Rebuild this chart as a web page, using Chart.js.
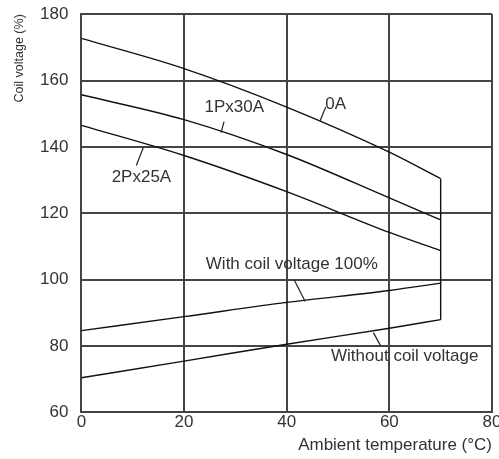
<!DOCTYPE html>
<html>
<head>
<meta charset="utf-8">
<script src="https://cdn.jsdelivr.net/npm/chart.js@4"></script>
<style>
  html, body { margin: 0; padding: 0; background: #fff; overflow: hidden; }
  #wrap { width: 506px; height: 468px; position: relative; top: -9px; }
</style>
</head>
<body>
<div id="wrap"><canvas id="coilChart"></canvas></div>
<script>
// ambient temperature (°C)
const temps = [0, 20, 40, 60, 70];

// coil voltage (%) per load condition
const load0A = [172.7, 163.6, 152.0, 138.4, 130.4];
const load1Px30A = [155.7, 148.2, 137.7, 124.6, 118.0];
const load2Px25A = [146.5, 137.4, 126.5, 114.2, 108.7];
const withCoil100 = [84.6, 88.8, 93.1, 96.7, 98.9];
const withoutCoil = [70.4, 75.4, 80.5, 85.3, 87.9];

const xTicks = [0, 20, 40, 60, 80];
const yTicks = [60, 80, 100, 120, 140, 160, 180];

const FONT = '"Liberation Sans", Arial, sans-serif';

// text labels with leader lines, in data units
const labels = [
    { text: '0A', x: 47.5, y: 152.8, from: [47.6, 152.0], to: [46.5, 147.8], align: 'left' },
    { text: '1Px30A', x: 29.8, y: 151.9, from: [27.8, 147.6], to: [27.2, 144.3], align: 'center' },
    { text: '2Px25A', x: 11.7, y: 130.9, from: [10.7, 134.4], to: [12.1, 139.9], align: 'center' },
    { text: 'With coil voltage 100%', x: 41.0, y: 104.5, from: [41.5, 99.8], to: [43.6, 93.4], align: 'center' },
    { text: 'Without coil voltage', x: 63.0, y: 76.8, from: [56.9, 84.0], to: [58.3, 80.0], align: 'center' }
];

function toPoints(ys) {
    return temps.map((t, i) => ({ x: t, y: ys[i] }));
}

const lineStyle = {
    borderColor: '#111',
    borderWidth: 1.4,
    pointRadius: 0,
    showLine: true,
    fill: false,
    cubicInterpolationMode: 'monotone'
};

const last = temps.length - 1;

const labelPlugin = {
    id: 'curveLabels',
    afterDatasetsDraw(chart) {
        const ctx = chart.ctx;
        const xs = chart.scales.x;
        const ys = chart.scales.y;
        ctx.save();
        ctx.font = '17px ' + FONT;
        ctx.fillStyle = '#333';
        ctx.strokeStyle = '#222';
        ctx.lineWidth = 1.2;
        ctx.textBaseline = 'middle';
        labels.forEach(l => {
            ctx.textAlign = l.align;
            ctx.fillText(l.text, xs.getPixelForValue(l.x), ys.getPixelForValue(l.y));
            ctx.beginPath();
            ctx.moveTo(xs.getPixelForValue(l.from[0]), ys.getPixelForValue(l.from[1]));
            ctx.lineTo(xs.getPixelForValue(l.to[0]), ys.getPixelForValue(l.to[1]));
            ctx.stroke();
        });
        ctx.restore();
    }
};

const coilChart = new Chart(document.getElementById('coilChart'), {
    type: 'scatter',
    data: {
        datasets: [
            { label: '0A', data: toPoints(load0A), ...lineStyle },
            { label: '1Px30A', data: toPoints(load1Px30A), ...lineStyle },
            { label: '2Px25A', data: toPoints(load2Px25A), ...lineStyle },
            { label: 'With coil voltage 100%', data: toPoints(withCoil100), ...lineStyle },
            { label: 'Without coil voltage', data: toPoints(withoutCoil), ...lineStyle },
            {
                label: 'limit',
                data: [{ x: temps[last], y: load0A[last] }, { x: temps[last], y: withoutCoil[last] }],
                ...lineStyle
            }
        ]
    },
    options: {
        responsive: true,
        maintainAspectRatio: false,
        animation: false,
        layout: { padding: { left: 8, top: 4, right: 14, bottom: 0 } },
        plugins: {
            legend: { display: false },
            tooltip: { enabled: false }
        },
        scales: {
            x: {
                type: 'linear',
                min: 0,
                max: 80,
                afterBuildTicks: axis => { axis.ticks = xTicks.map(v => ({ value: v })); },
                grid: { color: '#444', lineWidth: 2, drawTicks: false },
                border: { color: '#444', width: 2 },
                ticks: { color: '#333', padding: 0, font: { size: 17, family: FONT } },
                title: {
                    display: true,
                    text: 'Ambient temperature (°C)',
                    align: 'end',
                    color: '#333',
                    padding: { top: 3, bottom: 3 },
                    font: { size: 17, family: FONT }
                }
            },
            y: {
                type: 'linear',
                min: 60,
                max: 180,
                afterBuildTicks: axis => { axis.ticks = yTicks.map(v => ({ value: v })); },
                grid: { color: '#444', lineWidth: 2, drawTicks: false },
                border: { color: '#444', width: 2 },
                ticks: { color: '#333', padding: 13, font: { size: 17, family: FONT } },
                title: {
                    display: true,
                    text: 'Coil voltage (%)',
                    align: 'end',
                    color: '#333',
                    padding: { top: 4, bottom: 0 },
                    font: { size: 12.5, family: FONT }
                }
            }
        }
    },
    plugins: [labelPlugin]
});
</script>
</body>
</html>
